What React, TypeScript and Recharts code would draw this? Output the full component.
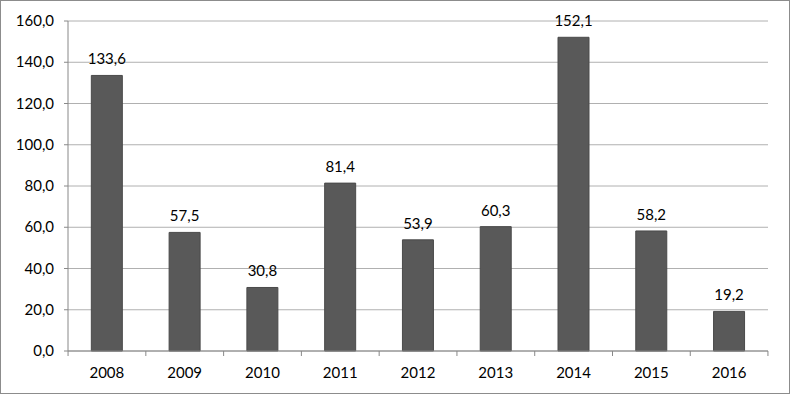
import React from 'react';
import { BarChart, Bar, XAxis, YAxis, CartesianGrid, LabelList } from 'recharts';

const years = ['2008', '2009', '2010', '2011', '2012', '2013', '2014', '2015', '2016'];
const values = [133.6, 57.5, 30.8, 81.4, 53.9, 60.3, 152.1, 58.2, 19.2];
const yTicks = [0, 20, 40, 60, 80, 100, 120, 140, 160];

const data = years.map((year, i) => ({ year, value: values[i] }));

const fmt = (v: number) => v.toFixed(1).replace('.', ',');

const FONT = 'Lato, "Open Sans", sans-serif';

const PLOT_LEFT = 67;
const PLOT_RIGHT = 766;
const bandHalf = (PLOT_RIGHT - PLOT_LEFT) / years.length / 2;

const XTick = (props: any) => {
  const { x, y, payload, index } = props;
  const last = index === years.length - 1;
  return (
    <g>
      <line x1={x - bandHalf} x2={x - bandHalf} y1={y - 8} y2={y - 3} stroke="#888" />
      {last && <line x1={x + bandHalf} x2={x + bandHalf} y1={y - 8} y2={y - 3} stroke="#888" />}
      <text x={x} y={y + 19} textAnchor="middle" fill="#000" fontSize={15} fontFamily={FONT}>
        {payload.value}
      </text>
    </g>
  );
};

const YTick = (props: any) => {
  const { y, payload } = props;
  return (
    <text
      x={PLOT_LEFT - 14}
      y={y}
      dy={5}
      textAnchor="end"
      fill="#000"
      fontSize={15}
      fontFamily={FONT}
    >
      {fmt(Number(payload.value))}
    </text>
  );
};

const App: React.FC = () => {
  return (
    <div
      style={{
        position: 'absolute',
        left: 0,
        top: 0,
        width: 790,
        height: 394,
        border: '1px solid #8c8c8c',
        boxSizing: 'border-box',
        background: '#fff',
      }}
    >
      <BarChart
        width={788}
        height={392}
        data={data}
        margin={{ top: 20, right: 21, bottom: 12, left: 0 }}
        barCategoryGap="30%"
      >
        <CartesianGrid vertical={false} stroke="#b0b0b0" />
        <XAxis
          dataKey="year"
          height={30}
          stroke="#888"
          tickLine={false}
          tick={<XTick />}
          interval={0}
        />
        <YAxis
          width={67}
          domain={[0, 160]}
          ticks={yTicks}
          stroke="#888"
          tickSize={4}
          tick={<YTick />}
          interval={0}
        />
        <Bar dataKey="value" fill="#595959" stroke="#4a4a4a" isAnimationActive={false}>
          <LabelList
            dataKey="value"
            position="top"
            offset={11}
            formatter={(v: any) => fmt(Number(v))}
            fill="#000"
            fontSize={15}
            fontFamily={FONT}
          />
        </Bar>
      </BarChart>
    </div>
  );
};

export default App;
